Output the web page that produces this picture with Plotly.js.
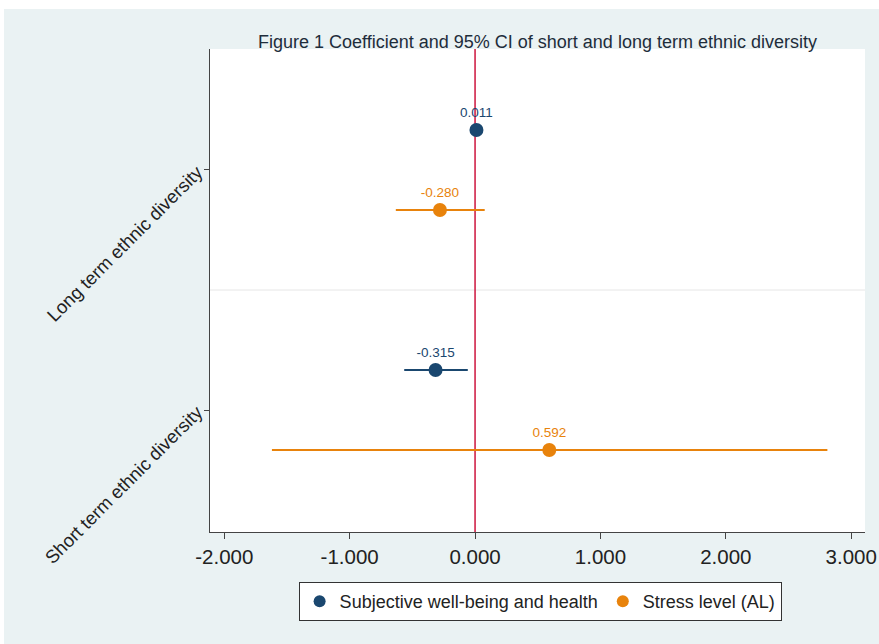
<!DOCTYPE html>
<html>
<head>
<meta charset="utf-8">
<script src="https://cdn.plot.ly/plotly-3.0.1.min.js"></script>
<style>
  html, body { margin: 0; padding: 0; background: #ffffff; }
  #chart { position: absolute; left: 4px; top: 9px; width: 875px; height: 635px; }
</style>
</head>
<body>
<div id="chart"></div>
<script>
// Categories (top to bottom) and their numeric positions on the y axis
const categories = ["Long term ethnic diversity", "Short term ethnic diversity"];
const categoryPos = [2, 1];

// Series: Subjective well-being and health
const wellbeingName = "Subjective well-being and health";
const wellbeingCoef = [0.011, -0.315];
const wellbeingLow  = [-0.010, -0.565];
const wellbeingHigh = [0.032, -0.058];

// Series: Stress level (AL)
const stressName = "Stress level (AL)";
const stressCoef = [-0.280, 0.592];
const stressLow  = [-0.632, -1.620];
const stressHigh = [0.077, 2.810];

// X-axis ticks
const xTicks = [-2, -1, 0, 1, 2, 3];

const navy = "#1a476f";
const orange = "#e8830c";
const offset = 0.1667;

function makeTrace(name, coef, low, high, color, shift) {
  return {
    type: "scatter",
    mode: "markers+text",
    name: name,
    x: coef,
    y: categoryPos.map(p => p + shift),
    text: coef.map(v => v.toFixed(3)),
    textposition: "top center",
    textfont: { family: "Liberation Sans, Arial, sans-serif", size: 13.5, color: color },
    marker: { color: color, size: 14 },
    error_x: {
      type: "data",
      symmetric: false,
      array: high.map((h, i) => h - coef[i]),
      arrayminus: low.map((l, i) => coef[i] - l),
      color: color,
      thickness: 2,
      width: 0
    },
    cliponaxis: false,
    hoverinfo: "x+name"
  };
}

const data = [
  makeTrace(wellbeingName, wellbeingCoef, wellbeingLow, wellbeingHigh, navy, offset),
  makeTrace(stressName, stressCoef, stressLow, stressHigh, orange, -offset)
];

const layout = {
  width: 875,
  height: 635,
  paper_bgcolor: "#eaf2f3",
  plot_bgcolor: "#ffffff",
  margin: { l: 206, r: 14, t: 40, b: 112 },
  font: { family: "Liberation Sans, Arial, sans-serif", color: "#222222" },
  title: {
    text: "Figure 1 Coefficient and 95% CI of short and long term ethnic diversity",
    font: { size: 18, color: "#1e2d3b" },
    x: 0.6097, xanchor: "center",
    y: 0.948, yanchor: "middle"
  },
  xaxis: {
    range: [-2.114, 3.11],
    tickvals: xTicks,
    ticktext: xTicks.map(v => v.toFixed(3)),
    tickfont: { size: 20.5, color: "#222222" },
    showgrid: false,
    zeroline: false,
    showline: true,
    linecolor: "#444444",
    linewidth: 1,
    ticks: "outside",
    ticklen: 6,
    tickcolor: "#444444",
    mirror: false
  },
  yaxis: {
    range: [0.492, 2.504],
    tickvals: categoryPos,
    ticktext: categories,
    tickangle: -45,
    tickfont: { size: 18.5, color: "#222222" },
    ticklabelstandoff: 3,
    showgrid: false,
    zeroline: false,
    showline: true,
    linecolor: "#444444",
    linewidth: 1,
    ticks: "outside",
    ticklen: 5,
    tickcolor: "#444444"
  },
  shapes: [
    { type: "line", xref: "paper", yref: "y", x0: 0, x1: 1, y0: 1.5, y1: 1.5,
      line: { color: "#e6e6e6", width: 1 }, layer: "below" },
    { type: "line", xref: "x", yref: "paper", x0: 0, x1: 0, y0: 0, y1: 1,
      line: { color: "#d0234a", width: 1.6 }, layer: "below" }
  ],
  showlegend: true,
  legend: {
    orientation: "h",
    x: 0.504, xanchor: "center",
    y: -0.1035, yanchor: "top",
    bgcolor: "#ffffff",
    bordercolor: "#333333",
    borderwidth: 1,
    font: { size: 18, color: "#222222" },
    itemsizing: "constant"
  }
};

Plotly.newPlot("chart", data, layout, { displayModeBar: false, staticPlot: true });
</script>
</body>
</html>
